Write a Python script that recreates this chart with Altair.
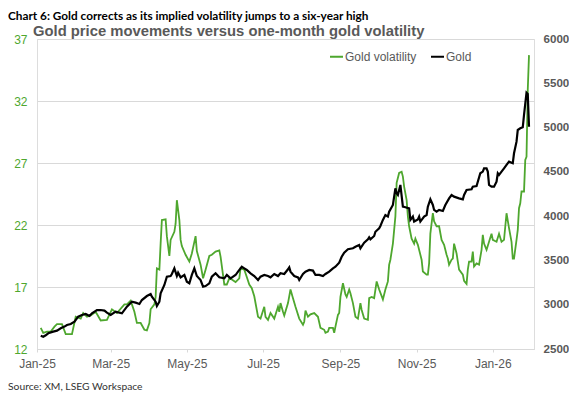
import altair as alt
import pandas as pd

# ---- data (day = days since 2025-01-01) ----
vol_day = [3, 5, 8, 11, 14, 16, 20, 23, 28, 31, 35, 37, 40, 43, 47, 51, 56, 60, 64, 70, 72, 75, 78, 80,
           83, 86, 88, 90, 91, 94, 95, 96, 98, 99, 100, 103, 104, 106, 107, 110, 111, 112, 114, 115, 116,
           119, 122, 124, 127, 128, 131, 133, 135, 138, 140, 143, 146, 147, 150, 152, 154, 156, 159, 162,
           163, 166, 168, 170, 172, 174, 177, 179, 182, 183, 185, 187, 190, 193, 194, 195, 197, 198, 201,
           203, 205, 207, 210, 213, 214, 215, 217, 219, 222, 225, 227, 230, 231, 233, 234, 237, 238, 239,
           241, 242, 243, 245, 247, 248, 250, 251, 253, 255, 257, 259, 260, 262, 265, 266, 268, 270, 272,
           274, 277, 279, 281, 282, 283, 285, 287, 288, 290, 292, 293, 294, 296, 297, 298, 300, 301, 302,
           303, 305, 308, 309, 312, 313, 314, 315, 317, 318, 320, 322, 324, 326, 328, 329, 330, 332, 333,
           334, 336, 337, 338, 341, 342, 344, 345, 346, 348, 349, 350, 352, 354, 356, 357, 358, 360, 362,
           364, 365, 368, 370, 372, 374, 376, 378, 380, 381, 382, 384, 385, 386, 387, 388, 390, 391, 392,
           393, 394]
vol_value = [13.7, 13.3, 13.4, 13.4, 13.8, 14.0, 14.0, 13.2, 13.2, 14.6, 14.45, 14.9, 14.6, 14.7, 15.0,
             14.3, 14.35, 15.2, 14.9, 15.6, 15.6, 15.9, 15.0, 14.1,
             14.1, 13.55, 13.5, 14.1, 15.2, 15.6, 16.2, 18.5, 18.4, 20.5, 22.4, 22.45, 21.1, 19.5, 20.8,
             21.45, 22.1, 24.0, 22.4, 20.8, 20.3,
             19.6, 19.05, 19.7, 21.1, 19.9, 18.8, 17.7, 18.4, 19.5, 19.6, 19.85, 19.95, 19.45, 17.2, 17.2,
             17.7, 17.6, 17.4, 17.7,
             18.5, 18.4, 17.8, 17.2, 16.9, 16.25, 14.6, 14.45, 15.4, 14.6, 14.35, 14.9, 14.45, 15.4, 15.0,
             15.7, 15.0, 14.7, 15.7,
             16.8, 16.1, 15.4, 14.45, 13.95, 14.2, 15.1, 14.6, 14.8, 14.9, 14.6, 13.7, 13.55, 13.3, 13.4,
             13.7, 13.7, 13.3, 13.8,
             14.75, 14.9, 16.2, 17.3, 16.4, 16.2, 16.8, 16.5, 15.7, 14.6, 14.45, 15.7, 15.15, 14.45, 14.35,
             16.1, 16.2, 16.1, 17.45,
             16.8, 16.0, 16.8, 17.45, 18.8, 19.2, 20.5, 22.7, 25.4, 26.2, 26.3, 25.9, 25.1, 24.0, 22.7,
             21.9, 20.9, 20.7, 20.5,
             20.9, 20.4, 19.2, 18.25, 18.0, 18.0, 18.9, 21.3, 22.95, 22.3, 21.9, 21.9, 20.8, 20.4, 19.6,
             19.3, 18.8, 19.2, 19.3,
             20.5, 19.7, 19.05, 18.4, 18.0, 17.5, 17.25, 18.4, 19.05, 19.05, 19.85, 18.65, 18.9, 18.8,
             20.0, 21.2, 20.5, 20.0, 20.65,
             21.3, 20.8, 20.65, 21.3, 20.65, 20.8, 22.95, 21.75, 20.65, 19.3, 19.3, 20.8, 21.6, 23.35,
             23.75, 24.7, 24.7, 27.25, 27.5,
             32.9, 35.7]

gold_day = [3, 5, 7, 9, 13, 16, 19, 22, 24, 27, 30, 33, 36, 39, 42, 44, 48, 51, 54, 56, 59, 63, 66, 68,
            72, 76, 79, 82, 84, 88, 91, 92, 95, 96, 98, 99, 102, 104, 107, 108, 110, 112, 113, 115, 118,
            120, 122, 124, 126, 128, 131, 133, 135, 138, 140, 143, 146, 150, 152, 155, 159, 161, 164, 166,
            168, 171, 174, 177, 179, 182, 185, 187, 190, 193, 195, 198, 201, 202, 203, 206, 209, 210, 213,
            215, 218, 221, 223, 226, 229, 231, 234, 237, 239, 242, 244, 246, 249, 253, 255, 258, 259, 262,
            265, 266, 267, 270, 271, 274, 275, 277, 279, 281, 282, 285, 286, 287, 288, 289, 291, 293, 295,
            298, 299, 301, 302, 305, 306, 307, 310, 312, 313, 315, 317, 318, 320, 322, 325, 327, 330, 332,
            334, 338, 341, 342, 344, 348, 349, 352, 353, 355, 357, 358, 360, 361, 362, 364, 366, 368, 369,
            370, 372, 374, 376, 378, 381, 382, 384, 385, 387, 389, 390, 392, 393, 394]
gold_value = [2650, 2639, 2655, 2677, 2696, 2707, 2734, 2753, 2771, 2782, 2808, 2865, 2884, 2895, 2873,
              2903, 2940, 2940, 2933, 2910, 2884, 2922, 2910, 2903,
              2978, 3034, 3023, 3008, 3053, 3098, 3121, 3091, 3034, 2985, 3034, 3129, 3223, 3317, 3324,
              3347, 3411, 3324, 3362, 3309, 3336,
              3260, 3242, 3336, 3411, 3324, 3279, 3204, 3211, 3242, 3317, 3355, 3309, 3298, 3336, 3298,
              3335, 3373, 3429, 3411,
              3392, 3355, 3324, 3279, 3317, 3336, 3324, 3309, 3347, 3324, 3355, 3347, 3400, 3422, 3373,
              3324, 3309, 3279, 3347,
              3373, 3392, 3385, 3336, 3336, 3324, 3347, 3373, 3411, 3429, 3475, 3542, 3587, 3626, 3637,
              3655, 3674, 3637, 3700,
              3739, 3761, 3739, 3776, 3824, 3863, 3889, 3957, 4013, 3995, 4050, 4126, 4220, 4314, 4258,
              4239, 4352, 4107, 4100,
              4088, 3957, 3995, 3939, 3963, 3995, 3939, 3995, 4013, 4107, 4190, 4126, 4070, 4050, 4070,
              4058, 4126, 4201, 4239,
              4220, 4201, 4190, 4239, 4295, 4303, 4333, 4340, 4389, 4484, 4503, 4540, 4540, 4503, 4352,
              4333, 4333, 4389, 4484,
              4465, 4503, 4540, 4578, 4615, 4597, 4710, 4841, 4973, 4992, 5003, 5142, 5394, 5380, 5010]

series_names = ["Gold volatility", "Gold"]
vol_ticks = [12, 17, 22, 27, 32, 37]
gold_ticks = [2500, 3000, 3500, 4000, 4500, 5000, 5500, 6000]
month_ticks = [(2025, 1), (2025, 3), (2025, 5), (2025, 7), (2025, 9), (2025, 11), (2026, 1)]

HEADER = "Chart 6: Gold corrects as its implied volatility jumps to a six-year high"
TITLE = "Gold price movements versus one-month gold volatility"
SOURCE = "Source: XM, LSEG Workspace"

GREEN = "#4EA72E"
GREY = "#595959"
GRID = "#D9D9D9"

start = pd.Timestamp("2025-01-01")
def to_dates(days):
    return [(start + pd.Timedelta(days=d)).strftime("%Y-%m-%d") for d in days]

vol_df = pd.DataFrame({"date": to_dates(vol_day), "value": vol_value, "series": series_names[0]})
gold_df = pd.DataFrame({"date": to_dates(gold_day), "value": gold_value, "series": series_names[1]})

x_enc = alt.X(
    "date:T",
    scale=alt.Scale(type="utc", domain=[alt.DateTime(year=2025, month=1, date=1, utc=True),
                                        alt.DateTime(year=2026, month=2, date=3, utc=True)]),
    axis=alt.Axis(
        values=[alt.DateTime(year=y, month=m, date=1, utc=True) for y, m in month_ticks],
        labelExpr="utcFormat(datum.value, '%b-%y')", title=None, grid=False, labelFlush=False,
        domainColor=GRID, tickColor=GRID, tickSize=3, labelPadding=6,
        labelColor=GREY, labelFontSize=12, labelFont="Liberation Sans",
    ),
)

color_enc = alt.Color(
    "series:N",
    scale=alt.Scale(domain=series_names, range=[GREEN, "#000000"]),
    legend=alt.Legend(
        title=None, orient="none", legendX=292, legendY=10, direction="horizontal",
        symbolType="stroke", symbolSize=169, symbolStrokeWidth=2, labelOffset=1,
        columnPadding=10, padding=0, labelFontSize=12, labelColor=GREY,
        labelFont="Liberation Sans",
    ),
)

vol_line = alt.Chart(vol_df).mark_line(strokeWidth=1.8).encode(
    x=x_enc,
    y=alt.Y("value:Q", scale=alt.Scale(domain=[12, 37], nice=False, zero=False),
            axis=alt.Axis(values=vol_ticks, title=None, domain=False, ticks=False, tickSize=0,
                          labelPadding=10, labelColor=GREEN, labelFontSize=12,
                          labelFont="Liberation Sans", gridColor=GRID, gridWidth=1)),
    color=color_enc,
)

gold_line = alt.Chart(gold_df).mark_line(strokeWidth=2.2).encode(
    x=x_enc,
    y=alt.Y("value:Q", scale=alt.Scale(domain=[2500, 6000], nice=False, zero=False),
            axis=alt.Axis(orient="right", values=gold_ticks, format="d", title=None, grid=False,
                          domain=False, ticks=False, tickSize=0, labelPadding=9, labelColor=GREY,
                          labelFontSize=11.6, labelFontWeight="bold", labelFont="Liberation Sans")),
    color=color_enc,
)

lines = alt.layer(vol_line, gold_line).resolve_scale(y="independent")

header = alt.Chart(pd.DataFrame({"t": [HEADER]})).mark_text(
    align="left", baseline="alphabetic", font="Lato", fontWeight="bold", fontSize=11.8, color="#000000"
).encode(x=alt.value(-29), y=alt.value(-19), text="t:N")

title = alt.Chart(pd.DataFrame({"t": [TITLE]})).mark_text(
    align="left", baseline="alphabetic", font="Liberation Sans", fontWeight="bold", fontSize=14.8,
    color=GREY
).encode(x=alt.value(-4), y=alt.value(-3), text="t:N")

source = alt.Chart(pd.DataFrame({"t": [SOURCE]})).mark_text(
    align="left", baseline="alphabetic", font="Lato", fontSize=10.3, color="#333333"
).encode(x=alt.value(-29), y=alt.value(351), text="t:N")

chart = alt.layer(lines, header, title, source).properties(
    width=497, height=310,
    padding={"left": 29, "top": 31, "right": 35, "bottom": 50},
    autosize=alt.AutoSizeParams(type="none"),
).configure_view(stroke=None).configure(font="Liberation Sans")

chart.save("out.html", embed_options={"renderer": "svg", "actions": False})
